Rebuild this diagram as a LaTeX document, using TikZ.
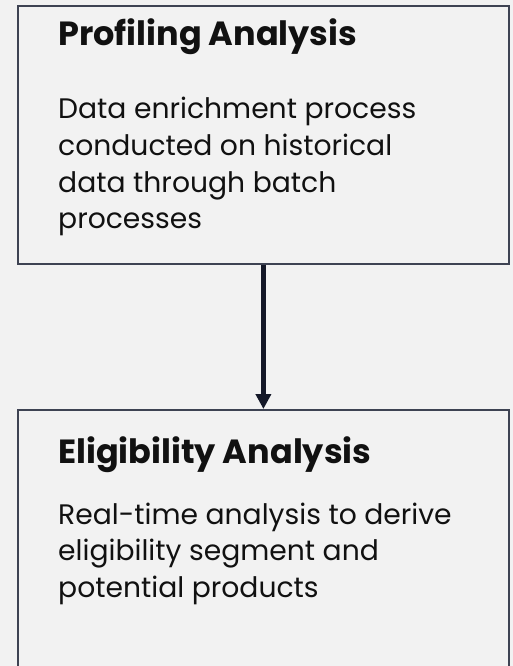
\documentclass[tikz,border=0pt]{standalone}
\usepackage{fontspec}
\setmainfont{Poppins}
\usetikzlibrary{arrows.meta}
\definecolor{bgc}{HTML}{F2F2F2}
\definecolor{edgec}{HTML}{3E4353}
\definecolor{arrowc}{HTML}{141828}
\definecolor{txtc}{HTML}{111111}
\newcommand{\bodytext}[1]{\parbox[t]{440bp}{\raggedright #1}}
\tikzset{
  panel/.style={draw=edgec, line width=1.8bp, fill=bgc, inner sep=0pt},
  ttl/.style={anchor=base west, inner sep=0pt, text=txtc, font=\fontsize{33.5bp}{38bp}\selectfont\bfseries},
  body/.style={anchor=base west, inner sep=0pt, text=txtc, font=\fontsize{28.2bp}{36.5bp}\selectfont},
  flow/.style={draw=arrowc, line width=4.2bp, -{Triangle[length=15bp,width=15bp]}}
}
\begin{document}
\begin{tikzpicture}[x=1bp,y=-1bp]
\useasboundingbox (0,0) rectangle (513,666);
\fill[bgc] (0,0) rectangle (513,666);
\node[panel, minimum width=491bp, minimum height=258bp, anchor=north west] (p) at (17,5) {};
\node[panel, minimum width=491bp, minimum height=270bp, anchor=north west] (e) at (17,409) {};
\node[ttl] (pt) at (58,46) {Profiling Analysis};
\node[body] (pb) at (58,119) {\bodytext{Data enrichment process\\conducted on historical\\data through batch\\processes}};
\node[ttl] (et) at (58,463) {Eligibility Analysis};
\node[body] (eb) at (58,524) {\bodytext{Real-time analysis to derive\\eligibility segment and\\potential products}};
\draw[flow] (p.south) -- (e.north);
\end{tikzpicture}
\end{document}
